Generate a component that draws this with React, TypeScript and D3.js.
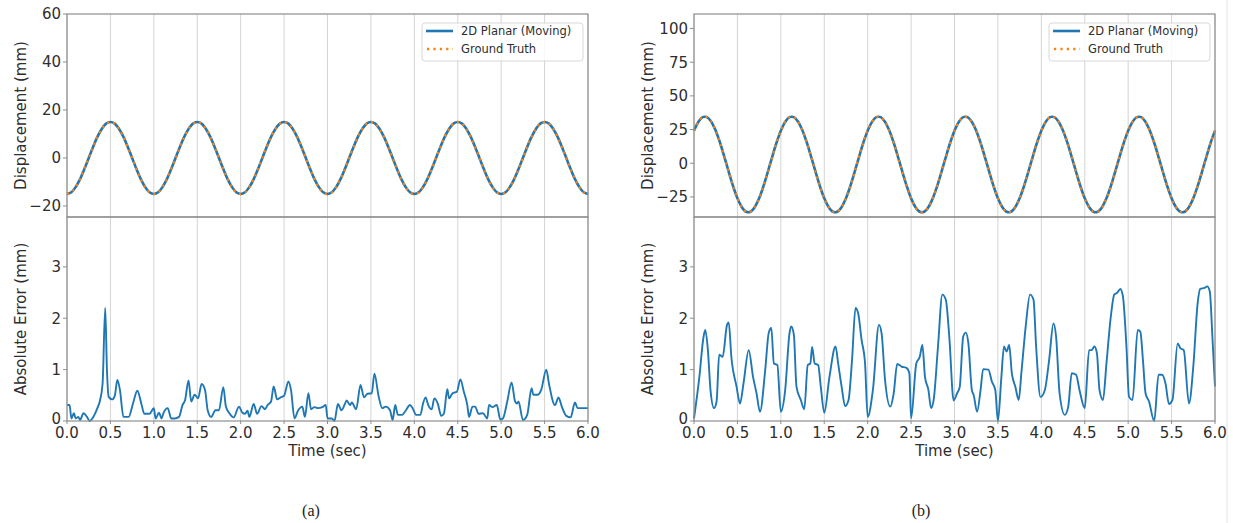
import * as d3 from 'd3'

// displacement samples every 0.05 s (ground truth and 2D planar overlap at this scale)
const dispTimes = d3.range(121).map(i => i * 0.05)

const dispA = [
  -15, -14.3, -12.1, -8.8, -4.6, 0, 4.6, 8.8, 12.1, 14.3, 15, 14.3, 12.1, 8.8, 4.6, 0, -4.6, -8.8, -12.1, -14.3,
  -15, -14.3, -12.1, -8.8, -4.6, 0, 4.6, 8.8, 12.1, 14.3, 15, 14.3, 12.1, 8.8, 4.6, 0, -4.6, -8.8, -12.1, -14.3,
  -15, -14.3, -12.1, -8.8, -4.6, 0, 4.6, 8.8, 12.1, 14.3, 15, 14.3, 12.1, 8.8, 4.6, 0, -4.6, -8.8, -12.1, -14.3,
  -15, -14.3, -12.1, -8.8, -4.6, 0, 4.6, 8.8, 12.1, 14.3, 15, 14.3, 12.1, 8.8, 4.6, 0, -4.6, -8.8, -12.1, -14.3,
  -15, -14.3, -12.1, -8.8, -4.6, 0, 4.6, 8.8, 12.1, 14.3, 15, 14.3, 12.1, 8.8, 4.6, 0, -4.6, -8.8, -12.1, -14.3,
  -15, -14.3, -12.1, -8.8, -4.6, 0, 4.6, 8.8, 12.1, 14.3, 15, 14.3, 12.1, 8.8, 4.6, 0, -4.6, -8.8, -12.1, -14.3,
  -15,
]

const dispB = [
  24.2, 30.7, 34.2, 34.2, 30.7, 24.2, 15.2, 4.6, -6.4, -17, -26, -32.5, -36, -36, -32.5, -26, -17, -6.4, 4.6, 15.2,
  24.2, 30.7, 34.2, 34.2, 30.7, 24.2, 15.2, 4.6, -6.4, -17, -26, -32.5, -36, -36, -32.5, -26, -17, -6.4, 4.6, 15.2,
  24.2, 30.7, 34.2, 34.2, 30.7, 24.2, 15.2, 4.6, -6.4, -17, -26, -32.5, -36, -36, -32.5, -26, -17, -6.4, 4.6, 15.2,
  24.2, 30.7, 34.2, 34.2, 30.7, 24.2, 15.2, 4.6, -6.4, -17, -26, -32.5, -36, -36, -32.5, -26, -17, -6.4, 4.6, 15.2,
  24.2, 30.7, 34.2, 34.2, 30.7, 24.2, 15.2, 4.6, -6.4, -17, -26, -32.5, -36, -36, -32.5, -26, -17, -6.4, 4.6, 15.2,
  24.2, 30.7, 34.2, 34.2, 30.7, 24.2, 15.2, 4.6, -6.4, -17, -26, -32.5, -36, -36, -32.5, -26, -17, -6.4, 4.6, 15.2,
  24.2,
]

// absolute error [time, mm]
const errA: [number, number][] = [
  [0, 0.31], [0.03, 0.31], [0.05, 0.05], [0.08, 0.15], [0.1, 0.05], [0.13, 0.08], [0.15, 0.02], [0.19, 0.15],
  [0.23, 0.08], [0.26, 0], [0.31, 0.1], [0.35, 0.25], [0.38, 0.4], [0.41, 0.73], [0.44, 2.2], [0.46, 1.0],
  [0.48, 0.47], [0.52, 0.42], [0.55, 0.49], [0.58, 0.8], [0.61, 0.6], [0.65, 0.08], [0.71, 0.08], [0.76, 0.34],
  [0.81, 0.59], [0.86, 0.31], [0.89, 0.14], [0.95, 0.14], [1.0, 0.25], [1.02, 0.05], [1.06, 0.16], [1.09, 0.05],
  [1.11, 0.15], [1.16, 0.25], [1.2, 0.05], [1.24, 0.05], [1.29, 0.08], [1.33, 0.31], [1.36, 0.41], [1.4, 0.79],
  [1.43, 0.38], [1.47, 0.51], [1.51, 0.44], [1.55, 0.72], [1.59, 0.6], [1.62, 0.21], [1.66, 0.08], [1.71, 0.21],
  [1.75, 0.21], [1.8, 0.66], [1.83, 0.28], [1.87, 0.15], [1.92, 0.07], [1.98, 0.28], [2.02, 0.16], [2.05, 0.14],
  [2.08, 0.2], [2.1, 0.08], [2.15, 0.33], [2.19, 0.14], [2.24, 0.29], [2.28, 0.23], [2.31, 0.31], [2.35, 0.38],
  [2.38, 0.67], [2.42, 0.42], [2.46, 0.46], [2.5, 0.49], [2.55, 0.77], [2.58, 0.6], [2.62, 0.05], [2.66, 0.2],
  [2.71, 0.28], [2.74, 0.08], [2.78, 0.54], [2.81, 0.23], [2.85, 0.27], [2.89, 0.25], [2.94, 0.27], [2.98, 0.31],
  [3.0, 0.05], [3.05, 0.05], [3.08, 0], [3.12, 0.33], [3.16, 0.21], [3.2, 0.33], [3.22, 0.4], [3.26, 0.31],
  [3.28, 0.36], [3.33, 0.23], [3.38, 0.7], [3.42, 0.46], [3.46, 0.53], [3.51, 0.54], [3.54, 0.92], [3.59, 0.47],
  [3.63, 0.25], [3.67, 0.28], [3.72, 0.21], [3.75, 0.02], [3.78, 0.31], [3.81, 0.12], [3.86, 0.12], [3.9, 0.2],
  [3.95, 0.31], [3.98, 0.25], [4.02, 0.12], [4.07, 0.12], [4.1, 0.34], [4.13, 0.46], [4.16, 0.31], [4.2, 0.23],
  [4.23, 0.44], [4.27, 0.34], [4.31, 0.1], [4.34, 0.14], [4.38, 0.62], [4.4, 0.44], [4.44, 0.54], [4.49, 0.57],
  [4.53, 0.81], [4.57, 0.57], [4.61, 0.31], [4.63, 0.08], [4.67, 0.28], [4.7, 0.28], [4.74, 0.14], [4.79, 0.15],
  [4.84, 0.05], [4.86, 0.31], [4.9, 0.27], [4.95, 0.31], [4.99, 0.03], [5.02, 0.05], [5.07, 0.38], [5.12, 0.75],
  [5.16, 0.38], [5.18, 0.34], [5.2, 0.38], [5.25, 0.02], [5.3, 0.12], [5.35, 0.64], [5.37, 0.51], [5.42, 0.51],
  [5.46, 0.6], [5.52, 1.0], [5.55, 0.73], [5.62, 0.31], [5.66, 0.46], [5.7, 0.27], [5.75, 0.1], [5.8, 0.07],
  [5.85, 0.36], [5.88, 0.25], [5.92, 0.25], [6.0, 0.25],
]

const errB: [number, number][] = [
  [0, 0.05], [0.06, 0.83], [0.11, 1.64], [0.13, 1.77], [0.16, 1.38], [0.19, 0.6], [0.23, 0.25], [0.26, 0.38],
  [0.29, 1.29], [0.33, 1.25], [0.38, 1.87], [0.4, 1.92], [0.43, 1.25], [0.49, 0.67], [0.53, 0.34], [0.57, 0.73],
  [0.63, 1.38], [0.68, 0.86], [0.72, 0.54], [0.76, 0.18], [0.82, 0.99], [0.86, 1.71], [0.89, 1.81], [0.92, 1.12],
  [0.96, 1.09], [1.0, 0.18], [1.05, 0.6], [1.1, 1.71], [1.12, 1.84], [1.15, 1.68], [1.18, 0.67], [1.23, 0.41],
  [1.27, 0.23], [1.31, 1.09], [1.34, 1.12], [1.36, 1.44], [1.39, 1.12], [1.43, 1.09], [1.46, 0.67], [1.5, 0.16],
  [1.56, 0.86], [1.63, 1.45], [1.66, 1.12], [1.7, 0.67], [1.74, 0.29], [1.78, 0.41], [1.82, 1.19], [1.86, 2.2],
  [1.89, 2.1], [1.93, 1.58], [1.97, 1.12], [2.0, 0.08], [2.06, 0.6], [2.13, 1.87], [2.16, 1.71], [2.2, 0.8],
  [2.26, 0.28], [2.3, 0.54], [2.34, 1.11], [2.39, 1.06], [2.45, 1.03], [2.48, 0.93], [2.5, 0.05], [2.56, 1.12],
  [2.6, 1.25], [2.63, 1.48], [2.66, 0.86], [2.7, 0.6], [2.73, 0.25], [2.76, 0.41], [2.81, 1.45], [2.86, 2.46],
  [2.9, 2.36], [2.94, 1.64], [2.99, 0.4], [3.03, 0.54], [3.06, 0.66], [3.1, 1.64], [3.13, 1.72], [3.16, 1.51],
  [3.2, 0.6], [3.22, 0.51], [3.26, 0.18], [3.3, 0.6], [3.33, 1.01], [3.39, 1.0], [3.43, 0.77], [3.47, 0.6],
  [3.5, 0], [3.54, 0.86], [3.57, 1.45], [3.6, 1.35], [3.63, 1.48], [3.66, 0.93], [3.7, 0.67], [3.74, 0.41],
  [3.77, 0.93], [3.82, 1.84], [3.87, 2.46], [3.91, 2.36], [3.94, 1.45], [3.99, 0.47], [4.04, 0.6], [4.09, 1.19],
  [4.14, 1.9], [4.17, 1.64], [4.21, 0.54], [4.27, 0.12], [4.31, 0.28], [4.35, 0.93], [4.4, 0.9], [4.44, 0.6],
  [4.5, 0.25], [4.55, 1.38], [4.58, 1.38], [4.61, 1.45], [4.64, 1.32], [4.67, 0.6], [4.71, 0.41], [4.75, 1.12],
  [4.8, 2.03], [4.84, 2.46], [4.87, 2.49], [4.91, 2.57], [4.94, 2.42], [4.98, 1.45], [5.01, 0.47], [5.05, 0.41],
  [5.11, 1.77], [5.14, 1.74], [5.17, 1.19], [5.2, 0.54], [5.24, 0.38], [5.3, 0], [5.35, 0.9], [5.39, 0.9],
  [5.43, 0.73], [5.47, 0.33], [5.51, 0.41], [5.57, 1.51], [5.6, 1.42], [5.64, 1.38], [5.7, 0.34], [5.75, 1.06],
  [5.8, 2.29], [5.83, 2.57], [5.88, 2.59], [5.91, 2.62], [5.94, 2.52], [5.97, 1.64], [6.0, 0.67],
]

const xTicks = [0, 0.5, 1, 1.5, 2, 2.5, 3, 3.5, 4, 4.5, 5, 5.5, 6]
const dispTicksA = [-20, 0, 20, 40, 60]
const dispTicksB = [-25, 0, 25, 50, 75, 100]
const errTicks = [0, 1, 2, 3]
const seriesNames = ['2D Planar (Moving)', 'Ground Truth']

const BLUE = '#1f77b4'
const ORANGE = '#ff7f0e'
const SPINE = '#8e8e8e'
const GRID = '#d4d4d4'
const TEXT = '#2e2e2e'
const FONT = '"DejaVu Sans", Verdana, sans-serif'

const TOP = 14
const MID = 217
const BOT = 421

const fmt = (v: number) => (v < 0 ? '\u2212' + Math.abs(v) : String(v))

function Panel({ x0, x1, disp, dispDomain, dispTicks, err, caption }: {
  x0: number; x1: number; disp: number[]; dispDomain: [number, number]; dispTicks: number[]
  err: [number, number][]; caption: string
}) {
  const x = d3.scaleLinear().domain([0, 6]).range([x0, x1])
  const yD = d3.scaleLinear().domain(dispDomain).range([MID, TOP])
  const yE = d3.scaleLinear().domain([0, 3.97]).range([BOT, MID])

  const dispLine = d3.line<number>()
    .x((_, i) => x(dispTimes[i]))
    .y(d => yD(d))
    .curve(d3.curveCatmullRom)
  const errLine = d3.line<[number, number]>()
    .x(d => x(d[0]))
    .y(d => yE(d[1]))
    .curve(d3.curveMonotoneX)

  const lx = x1 - 166
  const cx = (x0 + x1) / 2

  return (
    <g>
      <defs>
        <clipPath id={`clipD${caption}`}><rect x={x0} y={TOP} width={x1 - x0} height={MID - TOP} /></clipPath>
        <clipPath id={`clipE${caption}`}><rect x={x0} y={MID} width={x1 - x0} height={BOT - MID} /></clipPath>
      </defs>
      {/* grid */}
      {xTicks.map(t => (
        <line key={t} x1={x(t)} x2={x(t)} y1={TOP} y2={BOT} stroke={GRID} strokeWidth={1} />
      ))}
      {/* displacement */}
      <g clipPath={`url(#clipD${caption})`}>
        <path d={dispLine(disp) ?? ''} fill="none" stroke={BLUE} strokeWidth={2.6} />
        <path d={dispLine(disp) ?? ''} fill="none" stroke={ORANGE} strokeWidth={2.4} strokeDasharray="2.2 4.2" />
      </g>
      {/* error */}
      <g clipPath={`url(#clipE${caption})`}>
        <path d={errLine(err) ?? ''} fill="none" stroke={BLUE} strokeWidth={1.9} strokeLinejoin="round" />
      </g>
      {/* frames */}
      <rect x={x0} y={TOP} width={x1 - x0} height={MID - TOP} fill="none" stroke={SPINE} strokeWidth={1.2} />
      <rect x={x0} y={MID} width={x1 - x0} height={BOT - MID} fill="none" stroke={SPINE} strokeWidth={1.2} />
      {/* y ticks */}
      {dispTicks.map(t => (
        <g key={t}>
          <line x1={x0 - 4} x2={x0} y1={yD(t)} y2={yD(t)} stroke={SPINE} />
          <text x={x0 - 6} y={yD(t)} dy="0.36em" textAnchor="end" fontSize={15} fill={TEXT}>{fmt(t)}</text>
        </g>
      ))}
      {errTicks.map(t => (
        <g key={t}>
          <line x1={x0 - 4} x2={x0} y1={yE(t)} y2={yE(t)} stroke={SPINE} />
          <text x={x0 - 6} y={yE(t)} dy={t === 0 ? '0.2em' : '0.36em'} textAnchor="end" fontSize={15} fill={TEXT}>{t}</text>
        </g>
      ))}
      {/* x ticks */}
      {xTicks.map(t => (
        <g key={t}>
          <line x1={x(t)} x2={x(t)} y1={BOT} y2={BOT + 3} stroke={SPINE} />
          <text x={x(t)} y={438} textAnchor="middle" fontSize={15} fill={TEXT}>{t.toFixed(1)}</text>
        </g>
      ))}
      <text x={cx} y={456} textAnchor="middle" fontSize={15} fill={TEXT}>Time (sec)</text>
      <text transform={`translate(${x0 - 41},${(TOP + MID) / 2}) rotate(-90)`} textAnchor="middle" fontSize={15} fill={TEXT}>
        Displacement (mm)
      </text>
      <text transform={`translate(${x0 - 41},${(MID + BOT) / 2}) rotate(-90)`} textAnchor="middle" fontSize={15} fill={TEXT}>
        Absolute Error (mm)
      </text>
      {/* legend */}
      <rect x={lx} y={23} width={161} height={38} rx={3} fill="white" fillOpacity={0.85} stroke="#d8d8d8" />
      <line x1={lx + 4} x2={lx + 31} y1={31} y2={31} stroke={BLUE} strokeWidth={2.6} />
      <line x1={lx + 5} x2={lx + 31} y1={49} y2={49} stroke={ORANGE} strokeWidth={2.4} strokeDasharray="2.2 4.2" />
      <text x={lx + 39} y={35} fontSize={11.5} fill={TEXT}>{seriesNames[0]}</text>
      <text x={lx + 39} y={53} fontSize={11.5} fill={TEXT}>{seriesNames[1]}</text>
      {/* caption */}
      <text x={caption === '(a)' ? 311 : 921} y={516} textAnchor="middle" fontSize={16}
        fontFamily='"Liberation Serif", "Times New Roman", serif' fill="#222">{caption}</text>
    </g>
  )
}

export default function App() {
  return (
    <svg width={1233} height={523} viewBox="0 0 1233 523"
      style={{ position: 'absolute', left: 0, top: 0, background: 'white', fontFamily: FONT }}>
      <rect width={1233} height={523} fill="white" />
      <line x1={1227} x2={1227} y1={0} y2={523} stroke="#e2e2e2" strokeWidth={1} />
      <Panel x0={67} x1={588} disp={dispA} dispDomain={[-24.6, 60]} dispTicks={dispTicksA} err={errA} caption="(a)" />
      <Panel x0={694} x1={1215} disp={dispB} dispDomain={[-39.9, 110.8]} dispTicks={dispTicksB} err={errB} caption="(b)" />
    </svg>
  )
}
